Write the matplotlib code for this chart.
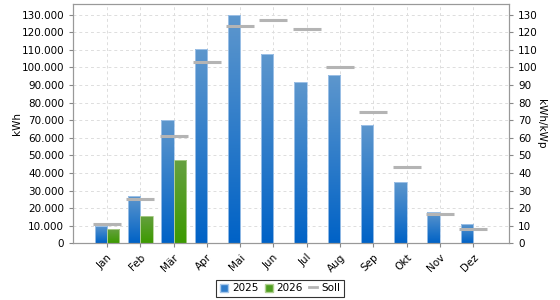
import numpy as np
import matplotlib.pyplot as plt
from matplotlib.ticker import FuncFormatter, MultipleLocator
from matplotlib.colors import LinearSegmentedColormap
from matplotlib.patches import Patch
from matplotlib.lines import Line2D

months = ['Jan', 'Feb', 'Mär', 'Apr', 'Mai', 'Jun', 'Jul', 'Aug', 'Sep', 'Okt', 'Nov', 'Dez']
y2025 = [9700, 27100, 70100, 110700, 130000, 107700, 91500, 95700, 67200, 34800, 17800, 11000]
y2026 = [7850, 15500, 47100]
soll = [11200, 25200, 61000, 103300, 123700, 127100, 122000, 100400, 74800, 43200, 16500, 7950]

ymax = 136000

fig = plt.figure(figsize=(5.6, 3.0), dpi=100)
ax = fig.add_axes([0.1304, 0.189, 0.7786, 0.797])
ax2 = ax.twinx()

blue = LinearSegmentedColormap.from_list('b', ['#0062c6', '#5e97cd'])
green = LinearSegmentedColormap.from_list('g', ['#3c9a00', '#66a040'])
grad = np.linspace(0, 1, 256).reshape(-1, 1)

def gradient_bars(vals, cmap, width, offset, edge):
    bars = ax.bar(np.arange(len(vals)) + offset, vals, width=width, align='edge',
                  color='none', edgecolor=edge, linewidth=0.6, zorder=3)
    for b in bars:
        bx, by = b.get_x(), b.get_y()
        w, h = b.get_width(), b.get_height()
        im = ax.imshow(grad, cmap=cmap, aspect='auto', origin='lower',
                       extent=[bx, bx + w, by, by + h], zorder=2)
        im.set_clip_path(b)
    return bars

w = 0.37
gradient_bars(y2025, blue, w, -w, '#a8c8ea')
gradient_bars(y2026, green, w, 0, '#b0d090')

x = np.arange(len(months))
ax.hlines(soll, x - 0.42, x + 0.42, colors='#b4b4b4', linewidth=2.2, zorder=4)

ax.set_xlim(-1.02, 12.08)
ax.set_ylim(0, ymax)
ax2.set_ylim(0, ymax / 1000)
ax.set_xticks(x)
ax.set_xticklabels(months, rotation=45, ha='right', rotation_mode='anchor', fontsize=7.5)
ax.yaxis.set_major_locator(MultipleLocator(10000))
ax.yaxis.set_major_formatter(FuncFormatter(lambda v, p: f'{int(v):,}'.replace(',', '.')))
ax2.yaxis.set_major_locator(MultipleLocator(10))
ax.tick_params(axis='y', labelsize=7.5, length=3, color='#888888')
ax.tick_params(axis='x', length=3, color='#888888')
ax2.tick_params(axis='y', labelsize=7.5, length=3, color='#888888')
ax.grid(True, linestyle=(0, (3, 3)), color='#dddddd', linewidth=0.7, zorder=0)
ax.set_axisbelow(True)
for a in (ax, ax2):
    for s in a.spines.values():
        s.set_color('#999999')
ax.set_ylabel('kWh', fontsize=7.5, va='center')
ax.yaxis.set_label_coords(-0.128, 0.5)
ax2.set_ylabel('kWh/kWp', fontsize=7.5, rotation=270, va='center')
ax2.yaxis.set_label_coords(1.073, 0.5)

handles = [Patch(facecolor='#2f7dcb', edgecolor='#a8c8ea'),
           Patch(facecolor='#4e9d20', edgecolor='#b0d090'),
           Line2D([0], [0], color='#b4b4b4', linewidth=2)]
leg = fig.legend(handles, ['2025', '2026', 'Soll'], loc='lower center', ncol=3,
                 bbox_to_anchor=(0.5, 0.0), fontsize=7.5, frameon=True, fancybox=False,
                 handlelength=0.8, handleheight=0.8, handletextpad=0.35, columnspacing=0.6,
                 borderpad=0.35, borderaxespad=0.3)
leg.get_frame().set_edgecolor('black')
leg.get_frame().set_linewidth(0.8)

fig.savefig('out.png', dpi=100)
